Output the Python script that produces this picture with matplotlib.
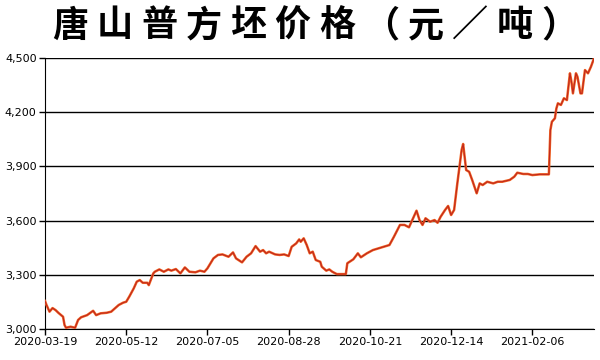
import matplotlib
matplotlib.use("Agg")
import matplotlib.pyplot as plt
import numpy as np
import pandas as pd

plt.rcParams['font.family'] = ['Noto Sans CJK SC', 'DejaVu Sans']

title = "唐山普方坯价格（元／吨）"
start = pd.Timestamp("2020-03-19")

# days after 2020-03-19, price in yuan/ton
day = [0, 1, 3, 5, 7, 9, 12, 13, 14, 17, 20, 22, 24, 28, 32, 34, 37, 41, 44, 49,
       52, 54, 56, 59, 61, 63, 65, 68, 69, 72, 73, 76, 79, 82, 84, 87, 90, 93, 96, 100,
       103, 106, 108, 112, 115, 118, 122, 125, 127, 131, 134, 137, 140, 143, 145, 147, 149, 153, 156, 159,
       162, 164, 167, 169, 170, 172, 174, 176, 178, 180, 183, 184, 187, 189, 191, 194, 197, 200, 201, 205,
       208, 210, 214, 218, 222, 229, 232, 236, 239, 242, 245, 247, 249, 251, 253, 256, 259, 261, 263, 266,
       268, 270, 272, 274, 277, 278, 280, 282, 284, 287, 289, 291, 294, 298, 301, 304, 309, 312, 314, 318,
       321, 324, 329, 335, 336, 337, 339, 340, 341, 343, 345, 347, 349, 350, 351, 353, 354, 356, 357, 359,
       361, 363, 365]
price = [3155, 3133, 3096, 3116, 3105, 3089, 3068, 3022, 3007, 3013, 3007, 3050, 3065, 3077, 3101, 3077, 3087, 3090, 3096, 3133,
         3146, 3151, 3179, 3225, 3262, 3271, 3256, 3256, 3243, 3308, 3317, 3330, 3317, 3330, 3323, 3332, 3308, 3341, 3317, 3314,
         3323, 3317, 3336, 3391, 3410, 3413, 3400, 3424, 3391, 3369, 3400, 3419, 3459, 3428, 3437, 3419, 3428, 3413, 3410, 3413,
         3404, 3455, 3474, 3496, 3483, 3502, 3465, 3419, 3428, 3382, 3372, 3345, 3323, 3330, 3317, 3304, 3304, 3304, 3364, 3386,
         3419, 3397, 3419, 3437, 3447, 3465, 3511, 3576, 3576, 3563, 3618, 3655, 3603, 3576, 3613, 3594, 3603, 3588, 3621, 3659,
         3681, 3631, 3659, 3797, 3991, 4024, 3880, 3870, 3825, 3751, 3806, 3797, 3815, 3806, 3815, 3815, 3825, 3843, 3865, 3858,
         3858, 3852, 3856, 3856, 4101, 4147, 4166, 4221, 4249, 4240, 4277, 4267, 4415, 4369, 4304, 4415, 4396, 4304, 4304, 4433,
         4415, 4452, 4498]

tick_dates = ["2020-03-19", "2020-05-12", "2020-07-05", "2020-08-28",
              "2020-10-21", "2020-12-14", "2021-02-06"]
yticks = [3000, 3300, 3600, 3900, 4200, 4500]

dates = start + pd.to_timedelta(day, unit="D")

fig = plt.figure(figsize=(6, 3.6), dpi=100)
ax = fig.add_axes([0.075, 0.086, 0.915, 0.753])

ax.plot(dates, price, color="#f26522", linewidth=1.8, zorder=3)
ax.plot(dates, price, color="#c0281e", linewidth=0.8, zorder=4)

ax.set_ylim(3000, 4500)
ax.set_xlim(dates[0], dates[-1])
ax.set_yticks(yticks)
ax.set_yticklabels(["{:,}".format(v) for v in yticks], fontsize=8, family="DejaVu Sans")
ax.set_xticks(pd.to_datetime(tick_dates))
ax.set_xticklabels(tick_dates, fontsize=8, family="DejaVu Sans")
ax.yaxis.grid(True, color="black", linewidth=1.0)
ax.set_axisbelow(True)
for s in ["top", "right"]:
    ax.spines[s].set_visible(False)
ax.tick_params(axis="both", direction="out", length=4, width=1, colors="black", pad=2)

# title spread out character by character, like the wide original
for i, ch in enumerate(title):
    fig.text((70 + i * 44.5) / 600, 0.928, ch, ha="center", va="center",
             fontsize=26, fontweight="bold")

fig.savefig("out.png", dpi=100)
